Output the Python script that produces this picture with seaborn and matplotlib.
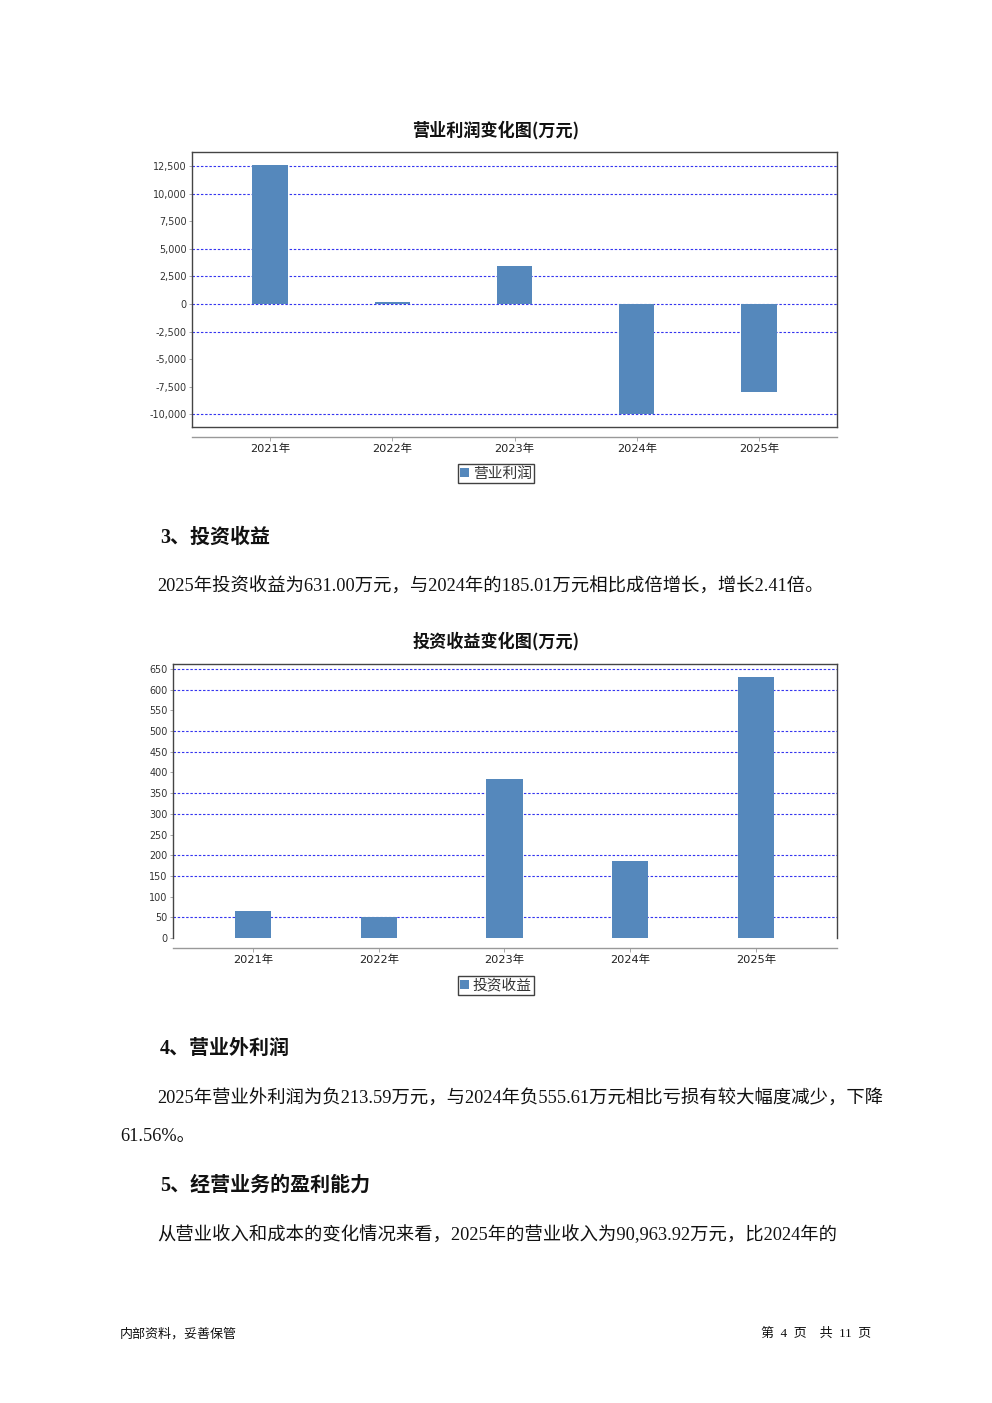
import matplotlib
matplotlib.use("Agg")
import matplotlib.pyplot as plt
import seaborn as sns
import pandas as pd
from matplotlib.patches import Patch
from matplotlib.ticker import FuncFormatter

# ---------------- data ----------------
years = ["2021年", "2022年", "2023年", "2024年", "2025年"]
op_profit = [12580, 200, 3440, -9950, -7960]          # 营业利润 (万元)
inv_income = [65, 51, 385, 185.01, 631.00]             # 投资收益 (万元)
op_ticks = [-10000, -7500, -5000, -2500, 0, 2500, 5000, 7500, 10000, 12500]
op_grid = [12500, 10000, 5000, 2500, 0, -2500, -10000]
inv_ticks = [0, 50, 100, 150, 200, 250, 300, 350, 400, 450, 500, 550, 600, 650]
inv_grid = [650, 600, 500, 450, 350, 300, 200, 150, 50]

title1 = "营业利润变化图(万元)"
title2 = "投资收益变化图(万元)"
legend1 = "营业利润"
legend2 = "投资收益"
head3 = "3、投资收益"
para3 = "2025年投资收益为631.00万元，与2024年的185.01万元相比成倍增长，增长2.41倍。"
head4 = "4、营业外利润"
para4a = "2025年营业外利润为负213.59万元，与2024年负555.61万元相比亏损有较大幅度减少，下降"
para4b = "61.56%。"
head5 = "5、经营业务的盈利能力"
para5 = "从营业收入和成本的变化情况来看，2025年的营业收入为90,963.92万元，比2024年的"
footer_left = "内部资料，妥善保管"
footer_right = "第  4  页    共  11  页"

# ---------------- style ----------------
sns.set_style("white")
plt.rcParams['font.family'] = ['Noto Sans CJK SC', 'DejaVu Sans']
SERIF = ['Liberation Serif', 'Noto Sans CJK SC']
CJK = ['Noto Sans CJK SC', 'DejaVu Sans']
TICKF = ['DejaVu Sans', 'Noto Sans CJK SC']

W, H = 992, 1403
fig = plt.figure(figsize=(W / 100, H / 100), dpi=100)
BAR = "#5588BC"
GRID = "#3535F0"


def fx(px):
    return px / W


def fy(py):
    return 1 - py / H


def draw_chart(box, values, label, ticks, grid, ylim, xlim, fmt, box_bottom,
               offset, legend_y, title, title_y):
    l, t, r, b = box
    ax = fig.add_axes([fx(l), fy(b), fx(r - l), (b - t) / H])
    df = pd.DataFrame({"year": years, "value": values})
    sns.barplot(data=df, x="year", y="value", ax=ax, color=BAR, saturation=1,
                width=0.29, linewidth=0, zorder=3)
    ax.set_xlim(*xlim)
    ax.set_ylim(*ylim)
    for g in grid:
        ax.axhline(g, color=GRID, lw=0.8, ls=(0, (2.2, 1.6)), zorder=1)
    ax.set_yticks(ticks)
    ax.yaxis.set_major_formatter(FuncFormatter(fmt))
    ax.tick_params(axis='y', labelsize=6.9, length=2, width=0.6, color='#999',
                   labelcolor='#333', pad=2, left=True)
    for lab in ax.get_yticklabels():
        lab.set_family(TICKF)
    ax.set_xticks([])
    ax.set_xlabel('')
    ax.set_ylabel('')
    for s in ['top', 'right', 'left', 'bottom']:
        ax.spines[s].set_color('#444')
        ax.spines[s].set_linewidth(1.0)
    ax.spines['bottom'].set_visible(box_bottom)

    sec = ax.secondary_xaxis(offset)
    sec.set_xticks(range(len(years)), labels=years)
    sec.tick_params(axis='x', labelsize=8.2, length=3, width=0.6, color='#999',
                    labelcolor='#222', pad=2)
    for lab in sec.get_xticklabels():
        lab.set_family(TICKF)
    for s in sec.spines.values():
        s.set_color('#999')
        s.set_linewidth(1.0)

    fig.text(fx(496), fy(title_y), title, ha='center', va='center',
             fontsize=12.3, fontweight='bold', family=CJK, color='#111')

    fig.legend(handles=[Patch(facecolor=BAR, edgecolor='none', label=label)],
               loc='center', bbox_to_anchor=(fx(496), fy(legend_y)),
               frameon=True, fancybox=False, edgecolor='#111', fontsize=10.6,
               handlelength=0.6, handleheight=0.6, handletextpad=0.25,
               borderpad=0.18, borderaxespad=0, labelcolor='#333')
    return ax


def fmt_comma(v, pos):
    return f"{v:,.0f}"


def fmt_plain(v, pos):
    return f"{v:.0f}"


# chart 1: 营业利润
draw_chart(box=(192, 152, 837, 427), values=op_profit, label=legend1,
           ticks=op_ticks, grid=op_grid, ylim=(-11141, 13768),
           xlim=(-0.638, 4.638), fmt=fmt_comma, box_bottom=True,
           offset=-10 / 275, legend_y=473.5, title=title1, title_y=130)

# chart 2: 投资收益
draw_chart(box=(173, 664, 837, 938), values=inv_income, label=legend2,
           ticks=inv_ticks, grid=inv_grid, ylim=(0, 662),
           xlim=(-0.636, 4.644), fmt=fmt_plain, box_bottom=False,
           offset=-10 / 274, legend_y=985.5, title=title2, title_y=641)

# ---------------- body text ----------------
def heading(x, y, s):
    fig.text(fx(x), fy(y), s, ha='left', va='center', fontsize=14.4,
             fontweight='bold', family=SERIF, color='#111')


def para(x, y, s):
    fig.text(fx(x), fy(y), s, ha='left', va='center', fontsize=13.2,
             family=SERIF, color='#111')


heading(160, 538, head3)
para(157, 587, para3)
heading(160, 1049, head4)
para(157, 1099, para4a)
para(120, 1137, para4b)
heading(160, 1186, head5)
para(157, 1235, para5)

fig.text(fx(120), fy(1334), footer_left, ha='left', va='center', fontsize=9.4,
         family=CJK, color='#111')
fig.text(fx(871), fy(1334), footer_right, ha='right', va='center', fontsize=9.4,
         family=SERIF, color='#111')

fig.savefig("out.png", dpi=100, facecolor='white')
